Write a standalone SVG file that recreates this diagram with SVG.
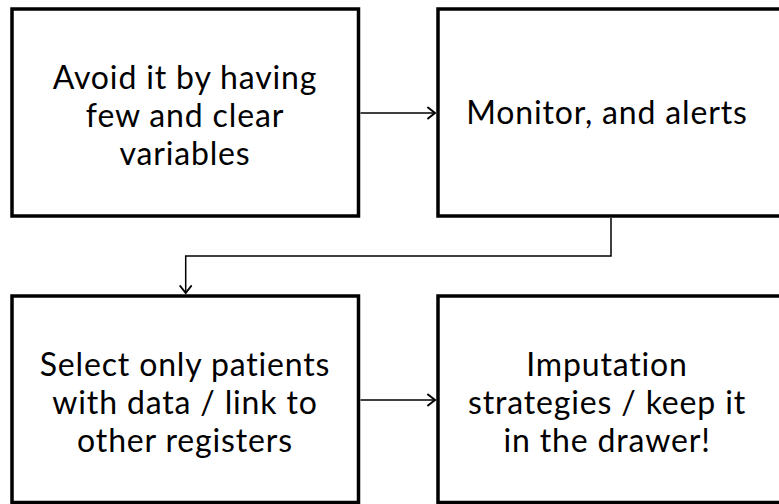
<svg xmlns="http://www.w3.org/2000/svg" width="779" height="504" viewBox="0 0 779 504">
  <style>
    .box { fill: #ffffff; stroke: #000000; stroke-width: 3.5; }
    .label { font-family: Lato, "Open Sans", "Liberation Sans", sans-serif; font-size: 32px; letter-spacing: 0.85px; fill: #000000; text-anchor: middle; }
    .link { fill: none; stroke: #000000; stroke-width: 1.5; }
    .head { fill: none; stroke: #000000; stroke-width: 2; stroke-linecap: round; stroke-linejoin: miter; }
  </style>
  <rect width="779" height="504" fill="#ffffff"/>

  <g id="node-avoid">
    <rect class="box" x="12" y="9" width="346.5" height="207"/>
    <text class="label" x="185" y="89">Avoid it by having</text>
    <text class="label" x="185" y="127">few and clear</text>
    <text class="label" x="185" y="165">variables</text>
  </g>

  <g id="node-monitor">
    <rect class="box" x="438" y="9" width="344" height="207"/>
    <text class="label" x="607" y="124">Monitor, and alerts</text>
  </g>

  <g id="node-select">
    <rect class="box" x="12" y="296" width="346.5" height="206.5"/>
    <text class="label" x="185" y="376">Select only patients</text>
    <text class="label" x="185" y="414">with data / link to</text>
    <text class="label" x="185" y="452">other registers</text>
  </g>

  <g id="node-imputation">
    <rect class="box" x="438" y="296" width="344" height="206.5"/>
    <text class="label" x="607" y="376">Imputation</text>
    <text class="label" x="607" y="414">strategies / keep it</text>
    <text class="label" x="607" y="452">in the drawer!</text>
  </g>

  <g id="connectors">
    <!-- avoid -> monitor -->
    <path class="link" d="M360.5 113 H435"/>
    <path class="head" d="M428 107.5 L435 113 L428 118.5"/>
    <!-- monitor -> select (elbow) -->
    <path class="link" d="M611 218 V256 H185.7 V293"/>
    <path class="head" d="M180.2 286 L185.7 293 L191.2 286"/>
    <!-- select -> imputation -->
    <path class="link" d="M360.5 400 H435"/>
    <path class="head" d="M428 394.5 L435 400 L428 405.5"/>
  </g>
</svg>
